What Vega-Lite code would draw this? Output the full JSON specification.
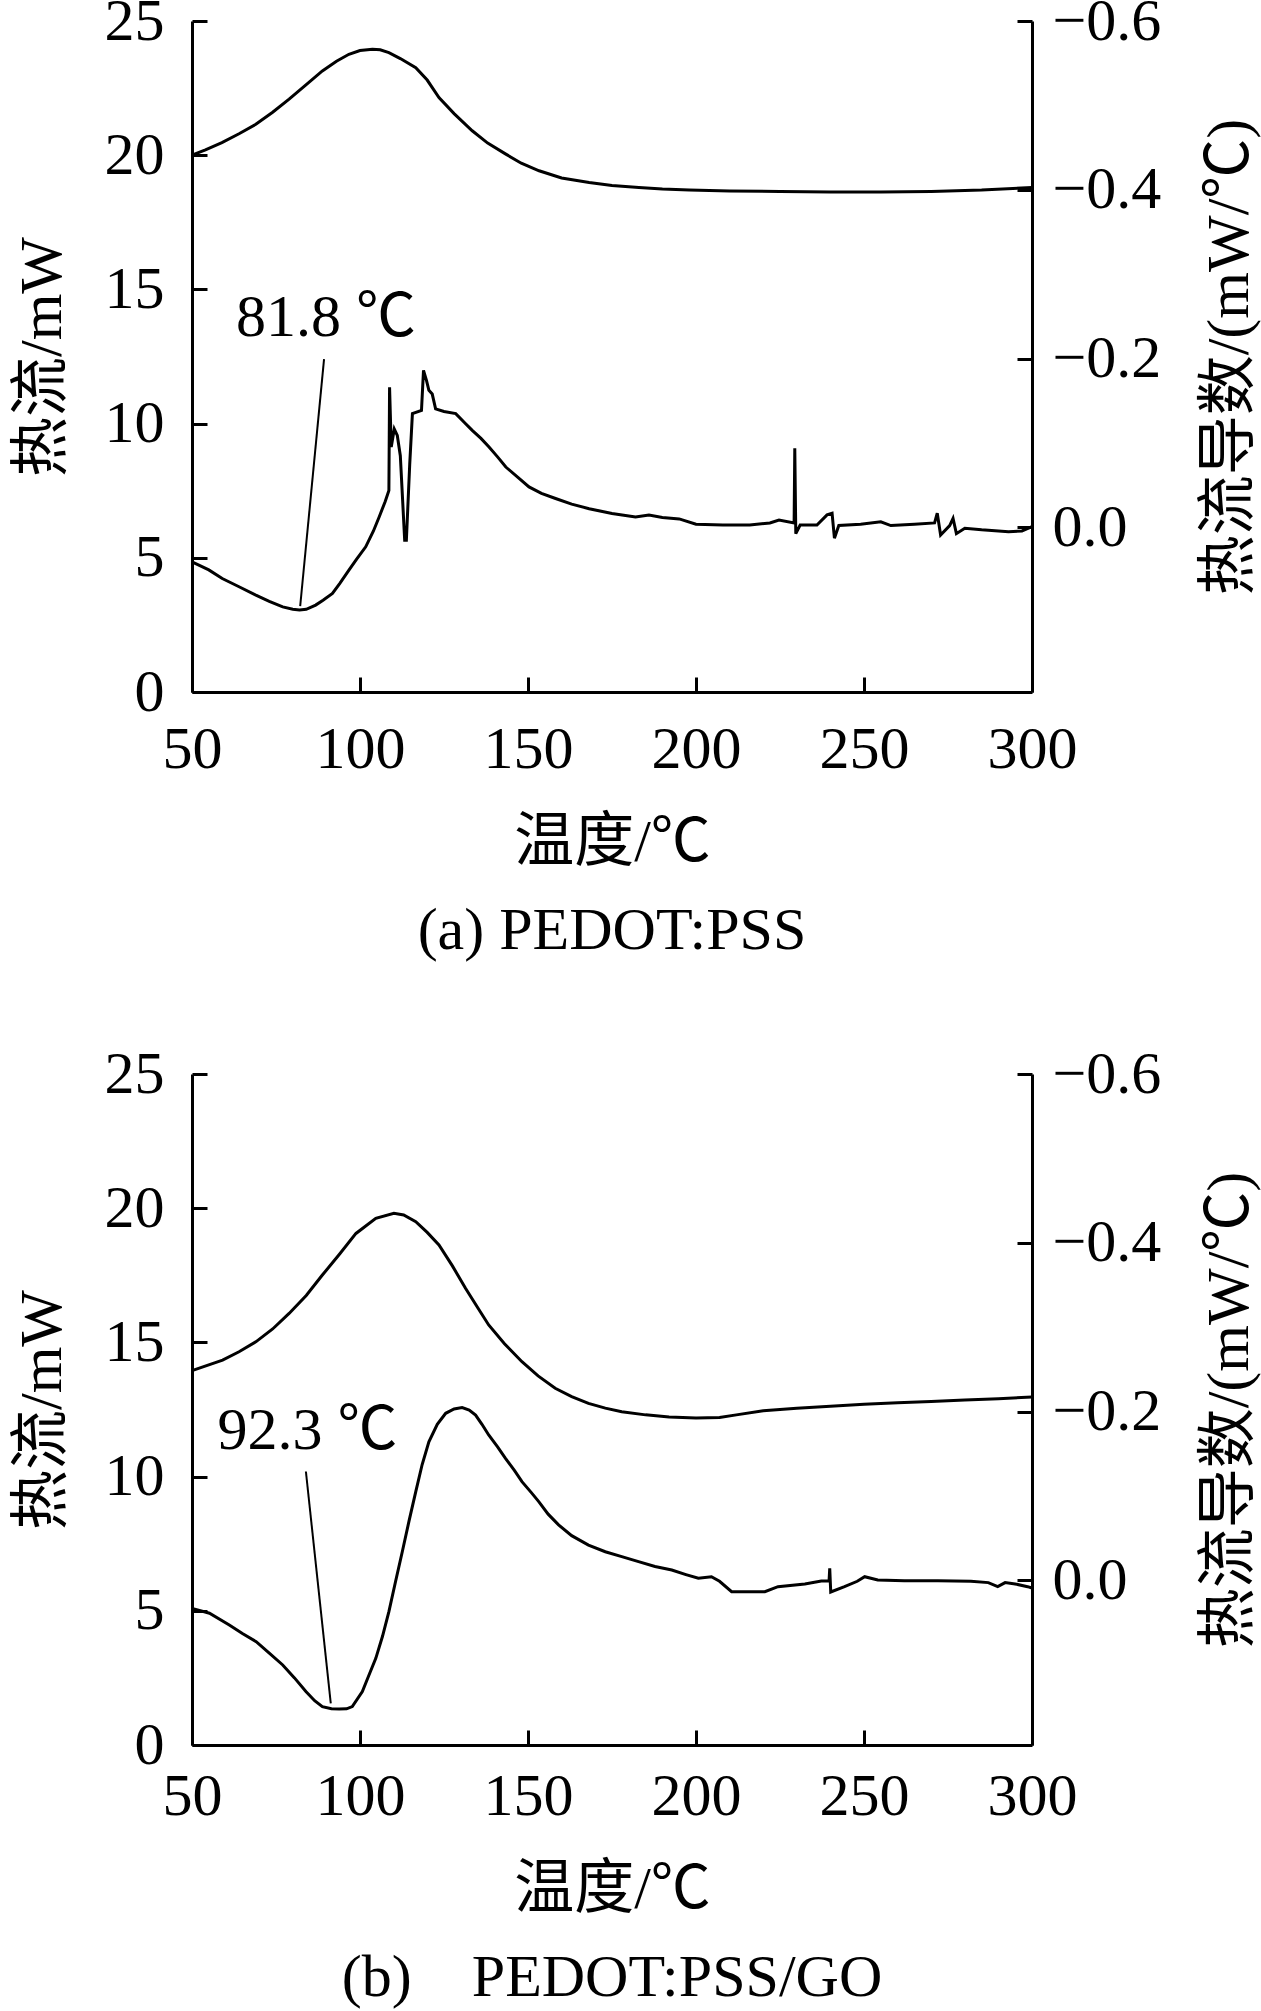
{
  "$schema": "https://vega.github.io/schema/vega-lite/v6.json",
  "background": "white",
  "padding": {"left": 12, "top": -9, "right": 10, "bottom": 4},
  "spacing": 83,
  "datasets": {
    "pss_heatflow": [
      {"T": 50, "heatflow": 20.0}, {"T": 54, "heatflow": 20.2}, {"T": 58.9, "heatflow": 20.47},
      {"T": 64, "heatflow": 20.8}, {"T": 69, "heatflow": 21.15}, {"T": 74, "heatflow": 21.6},
      {"T": 78.9, "heatflow": 22.09}, {"T": 84, "heatflow": 22.63}, {"T": 88.8, "heatflow": 23.14},
      {"T": 93, "heatflow": 23.5}, {"T": 96.7, "heatflow": 23.76}, {"T": 100, "heatflow": 23.9},
      {"T": 103.7, "heatflow": 23.95}, {"T": 106, "heatflow": 23.93}, {"T": 108.6, "heatflow": 23.82},
      {"T": 112, "heatflow": 23.6}, {"T": 116.6, "heatflow": 23.26}, {"T": 120, "heatflow": 22.8},
      {"T": 123.5, "heatflow": 22.15}, {"T": 128, "heatflow": 21.55}, {"T": 133.4, "heatflow": 20.91},
      {"T": 138, "heatflow": 20.45}, {"T": 143.4, "heatflow": 20.04}, {"T": 148, "heatflow": 19.7},
      {"T": 153.3, "heatflow": 19.42}, {"T": 160, "heatflow": 19.15}, {"T": 168.2, "heatflow": 18.98},
      {"T": 175, "heatflow": 18.87}, {"T": 183, "heatflow": 18.8}, {"T": 190, "heatflow": 18.74},
      {"T": 198, "heatflow": 18.7}, {"T": 210, "heatflow": 18.67}, {"T": 225, "heatflow": 18.65},
      {"T": 240, "heatflow": 18.63}, {"T": 255, "heatflow": 18.63}, {"T": 270, "heatflow": 18.65},
      {"T": 285, "heatflow": 18.7}, {"T": 300, "heatflow": 18.8}
    ],
    "pss_derivative": [
      {"T": 50, "deriv": 0.0408}, {"T": 55, "deriv": 0.0503}, {"T": 59, "deriv": 0.0605},
      {"T": 64, "deriv": 0.0703}, {"T": 69, "deriv": 0.0802}, {"T": 73, "deriv": 0.0875},
      {"T": 77, "deriv": 0.0942}, {"T": 80, "deriv": 0.097}, {"T": 82, "deriv": 0.0977},
      {"T": 84, "deriv": 0.097}, {"T": 86.8, "deriv": 0.092}, {"T": 89, "deriv": 0.0862},
      {"T": 91.8, "deriv": 0.0783}, {"T": 94, "deriv": 0.0662}, {"T": 96.7, "deriv": 0.0506},
      {"T": 99, "deriv": 0.0376}, {"T": 101.7, "deriv": 0.023}, {"T": 104, "deriv": 0.0042},
      {"T": 105.7, "deriv": -0.0123}, {"T": 107.5, "deriv": -0.0308}, {"T": 108.6, "deriv": -0.0438},
      {"T": 108.8, "deriv": -0.166}, {"T": 109.3, "deriv": -0.0953}, {"T": 110.2, "deriv": -0.1166},
      {"T": 111.1, "deriv": -0.109}, {"T": 112, "deriv": -0.085}, {"T": 113.3, "deriv": 0.0153},
      {"T": 113.8, "deriv": 0.0153}, {"T": 114.8, "deriv": -0.075}, {"T": 115.6, "deriv": -0.1348},
      {"T": 118.3, "deriv": -0.1386}, {"T": 118.9, "deriv": -0.186}, {"T": 119.8, "deriv": -0.1739},
      {"T": 120.5, "deriv": -0.1624}, {"T": 121.5, "deriv": -0.158}, {"T": 122.5, "deriv": -0.1405},
      {"T": 125, "deriv": -0.1373}, {"T": 128.5, "deriv": -0.1348}, {"T": 131, "deriv": -0.1246},
      {"T": 133.4, "deriv": -0.115}, {"T": 136, "deriv": -0.1055}, {"T": 138.4, "deriv": -0.0953},
      {"T": 141, "deriv": -0.0833}, {"T": 143.4, "deriv": -0.0715}, {"T": 147, "deriv": -0.0594},
      {"T": 150.3, "deriv": -0.048}, {"T": 154, "deriv": -0.0403}, {"T": 158.2, "deriv": -0.0343},
      {"T": 163, "deriv": -0.0276}, {"T": 168.2, "deriv": -0.0222}, {"T": 175, "deriv": -0.0165},
      {"T": 182, "deriv": -0.0123}, {"T": 186, "deriv": -0.0146}, {"T": 190, "deriv": -0.0117},
      {"T": 195, "deriv": -0.0101}, {"T": 200, "deriv": -0.0038}, {"T": 208, "deriv": -0.0028},
      {"T": 216, "deriv": -0.0028}, {"T": 222, "deriv": -0.0053}, {"T": 224.7, "deriv": -0.0088},
      {"T": 229.2, "deriv": -0.0053}, {"T": 229.4, "deriv": -0.0937}, {"T": 229.7, "deriv": 0.0074},
      {"T": 231, "deriv": -0.0028}, {"T": 236, "deriv": -0.0028}, {"T": 239, "deriv": -0.0149},
      {"T": 240.5, "deriv": -0.0168}, {"T": 241.2, "deriv": 0.0128}, {"T": 242.5, "deriv": -0.0022},
      {"T": 249, "deriv": -0.0038}, {"T": 255, "deriv": -0.0066}, {"T": 258, "deriv": -0.0022},
      {"T": 265, "deriv": -0.0038}, {"T": 271, "deriv": -0.0053}, {"T": 271.8, "deriv": -0.0168},
      {"T": 272.8, "deriv": 0.009}, {"T": 275.5, "deriv": -0.0022}, {"T": 276.5, "deriv": -0.0107},
      {"T": 277.5, "deriv": 0.0074}, {"T": 280, "deriv": 0.001}, {"T": 285, "deriv": 0.0029},
      {"T": 293, "deriv": 0.0052}, {"T": 297, "deriv": 0.0042}, {"T": 300, "deriv": -0.0009}
    ],
    "pss_note": [
      {"T1": 82.2, "L1": 3.2, "T2": 89.3, "L2": 12.4, "Tt": 89.9, "Lt": 13.25, "label": "81.8 ℃"}
    ],
    "go_heatflow": [
      {"T": 50, "heatflow": 13.95}, {"T": 59.1, "heatflow": 14.34}, {"T": 64, "heatflow": 14.65},
      {"T": 69.1, "heatflow": 15.03}, {"T": 74, "heatflow": 15.5}, {"T": 78.9, "heatflow": 16.08},
      {"T": 84, "heatflow": 16.75}, {"T": 88.8, "heatflow": 17.51}, {"T": 94, "heatflow": 18.3},
      {"T": 98.8, "heatflow": 19.06}, {"T": 104.7, "heatflow": 19.62}, {"T": 110.1, "heatflow": 19.81},
      {"T": 113, "heatflow": 19.75}, {"T": 116.6, "heatflow": 19.5}, {"T": 120, "heatflow": 19.1},
      {"T": 123.5, "heatflow": 18.63}, {"T": 127.5, "heatflow": 17.85}, {"T": 131.4, "heatflow": 17.02},
      {"T": 135, "heatflow": 16.3}, {"T": 138.3, "heatflow": 15.65}, {"T": 143, "heatflow": 14.95},
      {"T": 148.2, "heatflow": 14.28}, {"T": 153, "heatflow": 13.75}, {"T": 158.1, "heatflow": 13.29},
      {"T": 163, "heatflow": 12.98}, {"T": 168, "heatflow": 12.73}, {"T": 173, "heatflow": 12.55},
      {"T": 177.9, "heatflow": 12.42}, {"T": 185, "heatflow": 12.3}, {"T": 192, "heatflow": 12.22},
      {"T": 200, "heatflow": 12.18}, {"T": 207, "heatflow": 12.2}, {"T": 212, "heatflow": 12.3},
      {"T": 220, "heatflow": 12.45}, {"T": 230, "heatflow": 12.55}, {"T": 240, "heatflow": 12.62},
      {"T": 250, "heatflow": 12.7}, {"T": 260, "heatflow": 12.75}, {"T": 270, "heatflow": 12.8},
      {"T": 280, "heatflow": 12.85}, {"T": 290, "heatflow": 12.9}, {"T": 300, "heatflow": 12.97}
    ],
    "go_derivative": [
      {"T": 50, "deriv": 0.0331}, {"T": 55.2, "deriv": 0.0389}, {"T": 61.1, "deriv": 0.0529},
      {"T": 65, "deriv": 0.063}, {"T": 69.1, "deriv": 0.0726}, {"T": 73, "deriv": 0.0862},
      {"T": 77, "deriv": 0.1002}, {"T": 80.5, "deriv": 0.1155}, {"T": 83.9, "deriv": 0.1317},
      {"T": 86.5, "deriv": 0.1425}, {"T": 88.8, "deriv": 0.1495}, {"T": 91.5, "deriv": 0.1521},
      {"T": 93.8, "deriv": 0.1524}, {"T": 96, "deriv": 0.1521}, {"T": 97.7, "deriv": 0.1495},
      {"T": 100.7, "deriv": 0.1317}, {"T": 102.5, "deriv": 0.1139}, {"T": 104.7, "deriv": 0.0923},
      {"T": 106.7, "deriv": 0.0662}, {"T": 108.6, "deriv": 0.037}, {"T": 110.6, "deriv": 0.001},
      {"T": 112.6, "deriv": -0.0343}, {"T": 114.6, "deriv": -0.0705}, {"T": 116.6, "deriv": -0.1052},
      {"T": 118.5, "deriv": -0.1373}, {"T": 120.5, "deriv": -0.1643}, {"T": 123, "deriv": -0.185},
      {"T": 125.5, "deriv": -0.198}, {"T": 128, "deriv": -0.2031}, {"T": 130.4, "deriv": -0.2047},
      {"T": 132.5, "deriv": -0.2019}, {"T": 134.4, "deriv": -0.1958}, {"T": 136.3, "deriv": -0.185},
      {"T": 138.3, "deriv": -0.1723}, {"T": 141, "deriv": -0.158}, {"T": 143.3, "deriv": -0.1446},
      {"T": 146, "deriv": -0.13}, {"T": 148.2, "deriv": -0.117}, {"T": 151, "deriv": -0.104},
      {"T": 153.2, "deriv": -0.0934}, {"T": 156, "deriv": -0.0785}, {"T": 159.1, "deriv": -0.0658},
      {"T": 163, "deriv": -0.053}, {"T": 168, "deriv": -0.0419}, {"T": 173, "deriv": -0.034},
      {"T": 177.9, "deriv": -0.0282}, {"T": 182.9, "deriv": -0.0222}, {"T": 187.8, "deriv": -0.0165},
      {"T": 192.8, "deriv": -0.0123}, {"T": 197, "deriv": -0.0069}, {"T": 200.7, "deriv": -0.0025},
      {"T": 204.6, "deriv": -0.0044}, {"T": 207, "deriv": 0.001}, {"T": 210.6, "deriv": 0.0134},
      {"T": 220.5, "deriv": 0.0134}, {"T": 224.4, "deriv": 0.0074}, {"T": 232.4, "deriv": 0.0042},
      {"T": 237.3, "deriv": 0.0007}, {"T": 239.6, "deriv": 0.0007}, {"T": 239.8, "deriv": -0.0142},
      {"T": 240.1, "deriv": 0.0137}, {"T": 244.2, "deriv": 0.0074}, {"T": 248, "deriv": 0.001},
      {"T": 250.2, "deriv": -0.0044}, {"T": 254.1, "deriv": -0.0006}, {"T": 262, "deriv": 0.0004},
      {"T": 272, "deriv": 0.0004}, {"T": 281.8, "deriv": 0.001}, {"T": 287, "deriv": 0.0026},
      {"T": 289.8, "deriv": 0.0074}, {"T": 292, "deriv": 0.0026}, {"T": 295, "deriv": 0.0042},
      {"T": 298.7, "deriv": 0.0074}, {"T": 300, "deriv": 0.009}
    ],
    "go_note": [
      {"T1": 91.3, "L1": 1.55, "T2": 83.9, "L2": 10.19, "Tt": 84.4, "Lt": 11.03, "label": "92.3 ℃"}
    ]
  },
  "vconcat": [
    {
      "width": 840,
      "height": 671,
      "title": {"text": "(a) PEDOT:PSS", "offset": 30},
      "layer": [
        {
          "layer": [
            {
              "data": {"name": "pss_heatflow"},
              "mark": {"type": "line"},
              "encoding": {
                "x": {
                  "field": "T", "type": "quantitative",
                  "scale": {"domain": [50, 300], "nice": false},
                  "axis": {"title": "温度/℃", "values": [50, 100, 150, 200, 250, 300]}
                },
                "y": {
                  "field": "heatflow", "type": "quantitative",
                  "scale": {"domain": [0, 25], "nice": false},
                  "axis": {"title": "热流/mW", "values": [0, 5, 10, 15, 20, 25], "orient": "left"}
                }
              }
            },
            {
              "data": {"name": "pss_note"},
              "mark": {"type": "rule", "strokeWidth": 2, "color": "black"},
              "encoding": {
                "x": {"field": "T1", "type": "quantitative"},
                "y": {"field": "L1", "type": "quantitative"},
                "x2": {"field": "T2"},
                "y2": {"field": "L2"}
              }
            },
            {
              "data": {"name": "pss_note"},
              "mark": {"type": "text", "fontSize": 60, "baseline": "alphabetic", "align": "center", "color": "black"},
              "encoding": {
                "x": {"field": "Tt", "type": "quantitative"},
                "y": {"field": "Lt", "type": "quantitative"},
                "text": {"field": "label"}
              }
            }
          ]
        },
        {
          "data": {"name": "pss_derivative"},
          "mark": {"type": "line"},
          "encoding": {
            "x": {"field": "T", "type": "quantitative"},
            "y": {
              "field": "deriv", "type": "quantitative",
              "scale": {"domain": [-0.6, 0.195], "reverse": true, "nice": false, "zero": false},
              "axis": {"orient": "right", "title": "热流导数/(mW/℃)", "values": [-0.6, -0.4, -0.2, 0], "format": ".1f", "titleAngle": 270, "titleBaseline": "top"}
            }
          }
        }
      ],
      "resolve": {"scale": {"y": "independent"}}
    },
    {
      "width": 840,
      "height": 671,
      "title": {"text": "(b)　PEDOT:PSS/GO", "offset": 30},
      "layer": [
        {
          "layer": [
            {
              "data": {"name": "go_heatflow"},
              "mark": {"type": "line"},
              "encoding": {
                "x": {
                  "field": "T", "type": "quantitative",
                  "scale": {"domain": [50, 300], "nice": false},
                  "axis": {"title": "温度/℃", "values": [50, 100, 150, 200, 250, 300], "labelPadding": 37}
                },
                "y": {
                  "field": "heatflow", "type": "quantitative",
                  "scale": {"domain": [0, 25], "nice": false},
                  "axis": {"title": "热流/mW", "values": [0, 5, 10, 15, 20, 25], "orient": "left"}
                }
              }
            },
            {
              "data": {"name": "go_note"},
              "mark": {"type": "rule", "strokeWidth": 2, "color": "black"},
              "encoding": {
                "x": {"field": "T1", "type": "quantitative"},
                "y": {"field": "L1", "type": "quantitative"},
                "x2": {"field": "T2"},
                "y2": {"field": "L2"}
              }
            },
            {
              "data": {"name": "go_note"},
              "mark": {"type": "text", "fontSize": 60, "baseline": "alphabetic", "align": "center", "color": "black"},
              "encoding": {
                "x": {"field": "Tt", "type": "quantitative"},
                "y": {"field": "Lt", "type": "quantitative"},
                "text": {"field": "label"}
              }
            }
          ]
        },
        {
          "data": {"name": "go_derivative"},
          "mark": {"type": "line"},
          "encoding": {
            "x": {"field": "T", "type": "quantitative"},
            "y": {
              "field": "deriv", "type": "quantitative",
              "scale": {"domain": [-0.6, 0.195], "reverse": true, "nice": false, "zero": false},
              "axis": {"orient": "right", "title": "热流导数/(mW/℃)", "values": [-0.6, -0.4, -0.2, 0], "format": ".1f", "titleAngle": 270, "titleBaseline": "top"}
            }
          }
        }
      ],
      "resolve": {"scale": {"y": "independent"}}
    }
  ],
  "config": {
    "font": "'Liberation Serif', 'Noto Sans CJK SC', serif",
    "view": {"stroke": null},
    "line": {"color": "black", "strokeWidth": 3},
    "axis": {
      "grid": false,
      "labelFontSize": 60,
      "titleFontSize": 60,
      "titleFontWeight": "normal",
      "labelColor": "black",
      "titleColor": "black",
      "domainColor": "black",
      "domainWidth": 3,
      "tickColor": "black",
      "tickWidth": 3,
      "tickSize": -15,
      "labelFlush": false,
      "labelOverlap": false
    },
    "axisX": {"labelPadding": 43, "titlePadding": 34},
    "axisLeft": {"labelPadding": 43, "titlePadding": 31},
    "axisRight": {"labelPadding": 35, "titlePadding": 40},
    "title": {"fontSize": 60, "fontWeight": "normal", "color": "black", "orient": "bottom", "anchor": "middle"}
  }
}
